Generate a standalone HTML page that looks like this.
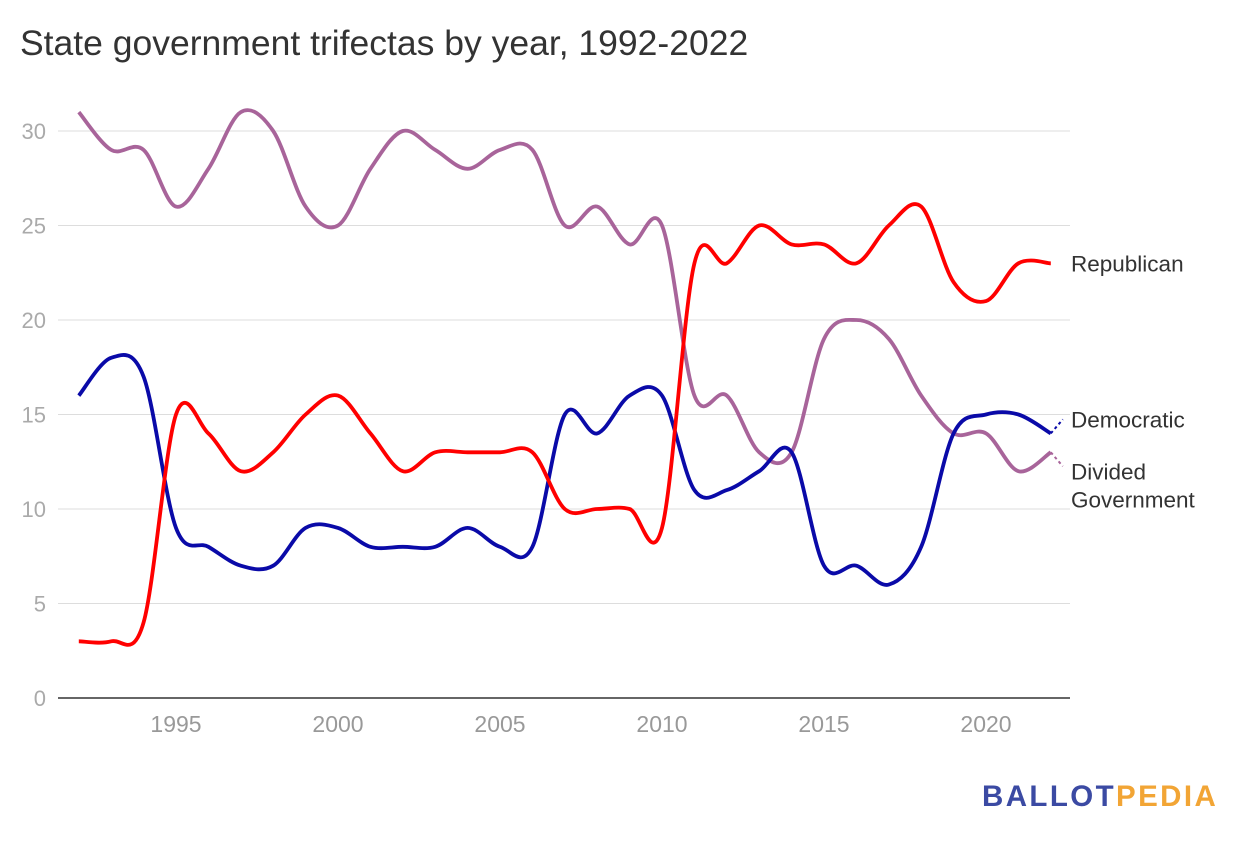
<!DOCTYPE html>
<html><head><meta charset="utf-8"><style>
body{margin:0;background:#fff;width:1240px;height:840px;overflow:hidden;font-family:"Liberation Sans",sans-serif}
</style></head><body>
<svg width="1240" height="840" id="chart">
<text x="20" y="55" font-size="35.5" fill="#333">State government trifectas by year, 1992-2022</text>
<g id="grid"></g><g id="lines"></g>
<text x="982" y="806" font-size="29.5" font-weight="bold" fill="#3b4aa3" letter-spacing="2.4">BALLOT<tspan fill="#f2a535">PEDIA</tspan></text>
</svg>
<script>
const years=[];for(let y=1992;y<=2022;y++)years.push(y);
const republican=[3,3,4,15,14,12,13,15,16,14,12,13,13,13,13,10,10,10,9,23,23,25,24,24,23,25,26,22,21,23,23];
const democratic=[16,18,17,9,8,7,7,9,9,8,8,8,9,8,8,15,14,16,16,11,11,12,13,7,7,6,8,14,15,15,14];
const divided=[31,29,29,26,28,31,30,26,25,28,30,29,28,29,29,25,26,24,25,16,16,13,13,19,20,19,16,14,14,12,13];
const yTicks=[0,5,10,15,20,25,30];
const xTicks=[1995,2000,2005,2010,2015,2020];
const X=y=>78.8+(y-1992)*32.4, Y=v=>698-v*18.9;
const NS="http://www.w3.org/2000/svg";
const grid=document.getElementById('grid'),lines=document.getElementById('lines');
function mk(tag,attrs,parent,text){const e=document.createElementNS(NS,tag);for(const k in attrs)e.setAttribute(k,attrs[k]);if(text!==undefined)e.textContent=text;parent.appendChild(e);return e;}
yTicks.forEach(t=>{
 const l=mk('line',{x1:58,x2:1070,y1:Y(t),y2:Y(t),stroke:t===0?'#333':'#ddd','stroke-width':t===0?1.5:1},grid);
 
 
 const tx=mk('text',{x:46,y:Y(t)+8,'font-size':22,fill:'#aaa','text-anchor':'end'},grid,t);
 
 
});
xTicks.forEach(t=>{
 const tx=mk('text',{x:X(t),y:732,'font-size':23,fill:'#999','text-anchor':'middle'},grid,t);
 
 
});
function path(vals){
 const p=vals.map((v,i)=>[X(years[i]),Y(v)]);
 let d='M'+p[0][0]+','+p[0][1];
 for(let i=0;i<p.length-1;i++){
  const p0=p[i-1]||p[i],p1=p[i],p2=p[i+1],p3=p[i+2]||p2;
  const c1=[p1[0]+(p2[0]-p0[0])/6,p1[1]+(p2[1]-p0[1])/6];
  const c2=[p2[0]-(p3[0]-p1[0])/6,p2[1]-(p3[1]-p1[1])/6];
  d+=` C${c1[0]},${c1[1]} ${c2[0]},${c2[1]} ${p2[0]},${p2[1]}`;
 }
 return d;
}
const series=[
 ['divided',divided,'#a8649a','Divided','Government',-1],
 ['democratic',democratic,'#0a0aa8','Democratic',null,1],
 ['republican',republican,'#f00','Republican',null,0]];
series.forEach(([n,vals,c,l1,l2,dir])=>{
 const p=mk('path',{d:path(vals),fill:'none',stroke:c,'stroke-width':3.8},lines);
 
 
 const last=vals[vals.length-1];
 let ly=Y(last)+8;
 if(dir!==0){
  const d=mk('line',{x1:X(2022),y1:Y(last),x2:X(2022)+12,y2:Y(last)-dir*14,stroke:c,'stroke-width':2,'stroke-dasharray':'3,3'},lines);
  
  
  ly=Y(last)-dir*14+8;
  if(dir<0) ly=Y(last)+27;
 }
 const t=mk('text',{x:1071,y:ly,'font-size':22.5,fill:'#333'},lines,l1);
 
 
 if(l2){const t2=mk('text',{x:1071,y:ly+28,'font-size':22.5,fill:'#333'},lines,l2);
 
 }
});
</script>
</body></html>
